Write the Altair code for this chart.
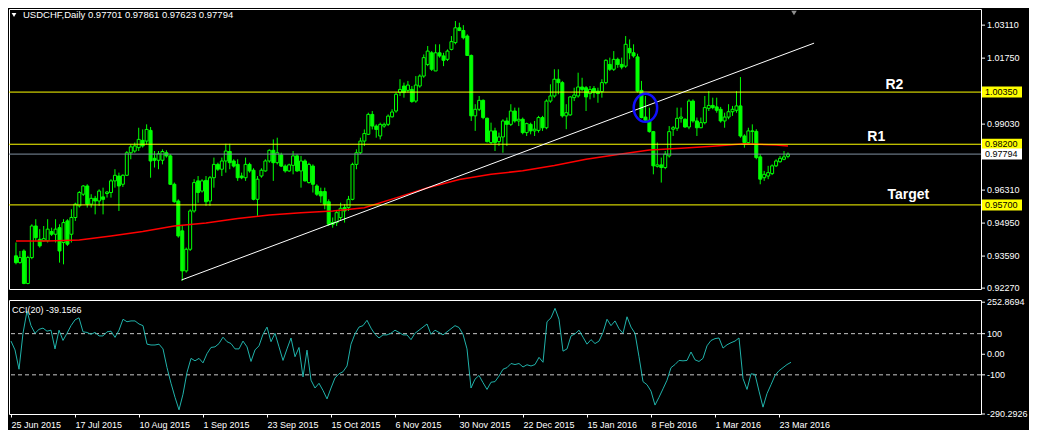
import altair as alt
import pandas as pd

# ---------------- data ----------------
OPEN = [0.9360, 0.9332, 0.9380, 0.9246, 0.9353, 0.9483, 0.9428, 0.9422, 0.9422, 0.9460,
        0.9449, 0.9476, 0.9415, 0.9504, 0.9449, 0.9518, 0.9566, 0.9614, 0.9648, 0.9573,
        0.9597, 0.9586, 0.9603, 0.9617, 0.9621, 0.9669, 0.9689, 0.9655, 0.9692, 0.9785,
        0.9792, 0.9806, 0.9836, 0.9833, 0.9877, 0.9762, 0.9754, 0.9754, 0.9785, 0.9772,
        0.9655, 0.9586, 0.9463, 0.9298, 0.9387, 0.9545, 0.9669, 0.9627, 0.9671, 0.9586,
        0.9682, 0.9737, 0.9717, 0.9751, 0.9790, 0.9751, 0.9737, 0.9689, 0.9682, 0.9737,
        0.9713, 0.9593, 0.9689, 0.9710, 0.9751, 0.9795, 0.9744, 0.9776, 0.9730, 0.9710,
        0.9733, 0.9772, 0.9710, 0.9751, 0.9662, 0.9730, 0.9648, 0.9625, 0.9625, 0.9583,
        0.9497, 0.9497, 0.9518, 0.9559, 0.9559, 0.9593, 0.9737, 0.9785, 0.9833, 0.9861,
        0.9943, 0.9895, 0.9854, 0.9895, 0.9902, 0.9933, 0.9957, 1.0033, 1.0060, 1.0042,
        1.0046, 0.9998, 1.0060, 1.0101, 1.0149, 1.0197, 1.0122, 1.0197, 1.0184, 1.0170,
        1.0211, 1.0239, 1.0300, 1.0289, 1.0266, 1.0186, 0.9937, 0.9964, 1.0001, 0.9927,
        0.9827, 0.9875, 0.9831, 0.9850, 0.9916, 0.9902, 0.9957, 0.9916, 0.9923, 0.9868,
        0.9902, 0.9875, 0.9877, 0.9930, 0.9888, 0.9998, 1.0019, 1.0088, 1.0074, 0.9937,
        0.9941, 1.0012, 1.0019, 1.0056, 1.0053, 1.0029, 1.0050, 1.0039, 1.0037, 1.0074,
        1.0149, 1.0129, 1.0170, 1.0149, 1.0142, 1.0215, 1.0197, 1.0180, 1.0042, 0.9932,
        0.9919, 0.9872, 0.9729, 0.9735, 0.9724, 0.9772, 0.9882, 0.9886, 0.9927, 0.9923,
        0.9891, 0.9998, 0.9916, 0.9888, 0.9909, 0.9968, 0.9980, 0.9974, 0.9964, 0.9916,
        0.9932, 0.9954, 0.9960, 0.9978, 0.9854, 0.9827, 0.9875, 0.9873, 0.9768, 0.9682,
        0.9689, 0.9699, 0.9731, 0.9748, 0.9758, 0.97701]

HIGH = [0.9415, 0.9380, 0.9387, 0.9360, 0.9490, 0.9511, 0.9470, 0.9483, 0.9511, 0.9476,
        0.9511, 0.9490, 0.9511, 0.9511, 0.9552, 0.9579, 0.9627, 0.9652, 0.9655, 0.9614,
        0.9607, 0.9634, 0.9641, 0.9627, 0.9676, 0.9717, 0.9703, 0.9696, 0.9792, 0.9820,
        0.9827, 0.9888, 0.9881, 0.9902, 0.9891, 0.9792, 0.9792, 0.9799, 0.9795, 0.9779,
        0.9662, 0.9593, 0.9483, 0.9394, 0.9552, 0.9676, 0.9689, 0.9676, 0.9689, 0.9689,
        0.9765, 0.9744, 0.9765, 0.9822, 0.9822, 0.9758, 0.9758, 0.9703, 0.9765, 0.9744,
        0.9721, 0.9689, 0.9721, 0.9758, 0.9799, 0.9840, 0.9847, 0.9785, 0.9737, 0.9740,
        0.9792, 0.9779, 0.9772, 0.9758, 0.9744, 0.9737, 0.9655, 0.9641, 0.9641, 0.9593,
        0.9518, 0.9545, 0.9579, 0.9573, 0.9607, 0.9744, 0.9799, 0.9847, 0.9881, 0.9950,
        0.9957, 0.9902, 0.9909, 0.9909, 0.9943, 0.9964, 1.0033, 1.0088, 1.0074, 1.0081,
        1.0060, 1.0101, 1.0108, 1.0190, 1.0225, 1.0204, 1.0232, 1.0232, 1.0197, 1.0211,
        1.0266, 1.0328, 1.0321, 1.0311, 1.0273, 1.0190, 0.9985, 1.0019, 1.0005, 0.9930,
        0.9909, 0.9888, 0.9868, 0.9923, 0.9930, 0.9985, 0.9971, 0.9971, 0.9930, 0.9909,
        0.9909, 0.9916, 0.9937, 0.9937, 1.0005, 1.0067, 1.0129, 1.0129, 1.0081, 0.9985,
        1.0019, 1.0053, 1.0115, 1.0094, 1.0060, 1.0060, 1.0060, 1.0053, 1.0088, 1.0170,
        1.0177, 1.0204, 1.0177, 1.0177, 1.0266, 1.0252, 1.0232, 1.0193, 1.0081, 1.0019,
        0.9971, 0.9875, 0.9827, 0.9765, 0.9792, 0.9895, 0.9895, 0.9971, 0.9971, 0.9927,
        1.0005, 1.0005, 0.9930, 0.9930, 1.0019, 1.0039, 1.0012, 1.0012, 0.9974, 0.9950,
        0.9985, 0.9978, 1.0039, 1.0097, 0.9861, 0.9888, 0.9902, 0.9882, 0.9779, 0.9710,
        0.9731, 0.9737, 0.9758, 0.9772, 0.9792, 0.97861]

LOW = [0.9325, 0.9328, 0.9243, 0.9243, 0.9346, 0.9422, 0.9394, 0.9419, 0.9415, 0.9442,
       0.9415, 0.9332, 0.9325, 0.9401, 0.9415, 0.9504, 0.9559, 0.9607, 0.9559, 0.9559,
       0.9531, 0.9566, 0.9531, 0.9600, 0.9600, 0.9641, 0.9545, 0.9644, 0.9689, 0.9758,
       0.9785, 0.9792, 0.9806, 0.9820, 0.9682, 0.9724, 0.9717, 0.9737, 0.9765, 0.9652,
       0.9579, 0.9435, 0.9257, 0.9291, 0.9380, 0.9538, 0.9579, 0.9621, 0.9566, 0.9566,
       0.9641, 0.9710, 0.9689, 0.9703, 0.9717, 0.9724, 0.9669, 0.9676, 0.9669, 0.9703,
       0.9589, 0.9525, 0.9682, 0.9707, 0.9744, 0.9669, 0.9737, 0.9726, 0.9703, 0.9706,
       0.9696, 0.9706, 0.9641, 0.9666, 0.9658, 0.9621, 0.9607, 0.9579, 0.9552, 0.9483,
       0.9476, 0.9483, 0.9504, 0.9497, 0.9545, 0.9589, 0.9717, 0.9779, 0.9813, 0.9858,
       0.9881, 0.9847, 0.9840, 0.9888, 0.9895, 0.9930, 0.9950, 1.0019, 1.0012, 1.0033,
       0.9991, 0.9991, 1.0053, 1.0094, 1.0142, 1.0122, 1.0122, 1.0177, 1.0142, 1.0163,
       1.0207, 1.0232, 1.0286, 1.0252, 1.0184, 0.9916, 0.9875, 0.9957, 0.9923, 0.9827,
       0.9820, 0.9792, 0.9813, 0.9785, 0.9813, 0.9895, 0.9909, 0.9895, 0.9861, 0.9854,
       0.9861, 0.9854, 0.9868, 0.9875, 0.9882, 0.9991, 1.0012, 1.0026, 0.9930, 0.9882,
       0.9937, 0.9998, 1.0012, 1.0039, 0.9957, 1.0005, 1.0012, 0.9991, 1.0012, 1.0067,
       1.0122, 1.0122, 1.0135, 1.0129, 1.0135, 1.0170, 1.0177, 1.0033, 0.9927, 0.9916,
       0.9868, 0.9696, 0.9724, 0.9662, 0.9717, 0.9765, 0.9854, 0.9875, 0.9909, 0.9888,
       0.9882, 0.9909, 0.9854, 0.9886, 0.9902, 0.9957, 0.9964, 0.9950, 0.9909, 0.9888,
       0.9923, 0.9937, 0.9950, 0.9847, 0.9806, 0.9820, 0.9820, 0.9758, 0.9655, 0.9669,
       0.9676, 0.9693, 0.9726, 0.9744, 0.9754, 0.97623]

CLOSE = [0.9332, 0.9353, 0.9246, 0.9353, 0.9483, 0.9435, 0.9401, 0.9431, 0.9470, 0.9449,
         0.9470, 0.9380, 0.9497, 0.9408, 0.9518, 0.9573, 0.9621, 0.9648, 0.9573, 0.9597,
         0.9586, 0.9627, 0.9593, 0.9623, 0.9669, 0.9692, 0.9648, 0.9692, 0.9785, 0.9809,
         0.9813, 0.9840, 0.9813, 0.9881, 0.9751, 0.9754, 0.9781, 0.9790, 0.9772, 0.9655,
         0.9583, 0.9442, 0.9298, 0.9387, 0.9545, 0.9662, 0.9621, 0.9669, 0.9583, 0.9682,
         0.9737, 0.9717, 0.9751, 0.9792, 0.9744, 0.9730, 0.9682, 0.9682, 0.9737, 0.9710,
         0.9593, 0.9676, 0.9713, 0.9751, 0.9795, 0.9744, 0.9785, 0.9730, 0.9710, 0.9735,
         0.9772, 0.9710, 0.9751, 0.9669, 0.9737, 0.9655, 0.9614, 0.9607, 0.9573, 0.9490,
         0.9490, 0.9538, 0.9556, 0.9545, 0.9593, 0.9737, 0.9785, 0.9833, 0.9864, 0.9943,
         0.9895, 0.9881, 0.9902, 0.9902, 0.9936, 0.9953, 1.0026, 1.0046, 1.0033, 1.0064,
         0.9996, 1.0064, 1.0101, 1.0177, 1.0204, 1.0129, 1.0197, 1.0184, 1.0166, 1.0204,
         1.0243, 1.0300, 1.0289, 1.0259, 1.0186, 0.9937, 0.9964, 1.0001, 0.9930, 0.9831,
         0.9875, 0.9827, 0.9850, 0.9916, 0.9902, 0.9957, 0.9916, 0.9923, 0.9868, 0.9905,
         0.9875, 0.9882, 0.9930, 0.9888, 0.9998, 1.0019, 1.0088, 1.0074, 0.9937, 0.9950,
         1.0015, 1.0023, 1.0056, 1.0046, 1.0015, 1.0046, 1.0033, 1.0029, 1.0074, 1.0166,
         1.0129, 1.0170, 1.0149, 1.0138, 1.0232, 1.0197, 1.0184, 1.0039, 0.9930, 0.9919,
         0.9872, 0.9731, 0.9735, 0.9724, 0.9779, 0.9872, 0.9888, 0.9927, 0.9932, 0.9891,
         0.9998, 0.9916, 0.9888, 0.9909, 0.9971, 0.9980, 0.9971, 0.9960, 0.9916, 0.9932,
         0.9954, 0.9964, 0.9978, 0.9854, 0.9827, 0.9875, 0.9873, 0.9765, 0.9676, 0.9696,
         0.9703, 0.9731, 0.9751, 0.9762, 0.9768, 0.97794]

CCI = [64, 21, -73, 102, 210, 139, 102, 121, 127, 112,
       117, 26, 117, 67, 102, 139, 167, 177, 109, 106,
       97, 106, 89, 89, 109, 112, 82, 117, 170, 158,
       162, 162, 147, 139, 49, 45, 45, 49, 26, -65,
       -141, -209, -270, -194, -88, -20, -32, -20, -42, 3,
       33, 36, 52, 83, 61, 52, 26, 26, 64, 36,
       -35, 21, 41, 97, 132, 61, 102, 36, -30, 26,
       79, -12, 33, -110, 20, -126, -164, -141, -176, -217,
       -164, -115, -95, -85, -57, 49, 99, 132, 139, 165,
       127, 97, 79, 94, 94, 102, 117, 106, 94, 94,
       71, 102, 117, 132, 147, 97, 117, 106, 94, 109,
       124, 139, 130, 97, 26, -164, -121, -103, -138, -171,
       -136, -133, -106, -73, -65, -45, -50, -45, -62, -51,
       -57, -50, -15, -39, 158, 177, 223, 170, 15, 26,
       89, 99, 117, 83, 49, 71, 52, 64, 106, 170,
       139, 162, 124, 102, 182, 132, 102, -12, -133, -148,
       -179, -247, -209, -168, -126, -65, -50, -30, -32, -30,
       11, -27, -35, -20, 41, 67, 76, 79, 30, 46,
       56, 64, 79, -118, -171, -95, -98, -179, -257, -191,
       -148, -103, -80, -65, -50, -39.1566]

MA_BARS = [0, 8, 16, 24, 32, 40, 48, 56, 64, 72, 80, 88, 96, 104, 112, 120, 128,
           136, 144, 152, 160, 168, 176, 184, 192, 195]
MA_VALUES = [0.9421, 0.9421, 0.9425, 0.9442, 0.9460, 0.9483, 0.9495, 0.9514, 0.9528,
             0.9538, 0.9545, 0.9558, 0.9599, 0.9641, 0.9675, 0.9696, 0.9711, 0.9732,
             0.9758, 0.9778, 0.9796, 0.9803, 0.9812, 0.9822, 0.9817, 0.9813]

TREND_BARS = [41.8, 201.6]
TREND_PRICES = [0.92604, 1.02368]

LEVEL_PRICES = [1.00350, 0.98200, 0.95700]
BID_PRICE = 0.97794
LEVEL_NAMES = ["R2", "R1", "Target"]
LEVEL_NAME_BARS = [221.9, 217.3, 225.4]
LEVEL_NAME_PRICES = [1.0047, 0.9833, 0.9594]

CIRCLE_BAR = [159.0]
CIRCLE_PRICE = [0.99703]

DATE_LABELS = ["25 Jun 2015", "17 Jul 2015", "10 Aug 2015", "1 Sep 2015", "23 Sep 2015",
               "15 Oct 2015", "6 Nov 2015", "30 Nov 2015", "22 Dec 2015", "15 Jan 2016",
               "8 Feb 2016", "1 Mar 2016", "23 Mar 2016"]
DATE_STEP = 16
PRICE_TICKS = [1.03110, 1.01750, 0.99030, 0.96310, 0.94950, 0.93590, 0.92270]
CCI_TICKS = [252.8694, 100, 0, -100, -290.2926]
CCI_TICK_LABELS = ["252.8694", "100", "0.00", "-100", "-290.2926"]
CCI_LEVELS = [100, -100]
HEADER = "USDCHF,Daily  0.97701 0.97861 0.97623 0.97794"
CCI_TITLE = "CCI(20) -39.1566"

# ---------------- styling ----------------
W = 972
H1 = 280
H2 = 114
X0 = -0.5
GREEN = "#00ff00"
FONT = "Liberation Sans"

xs = alt.Scale(domain=[X0, X0 + W / 4], nice=False, zero=False)
ys = alt.Scale(domain=[0.92233, 1.03775], nice=False, zero=False)
cs = alt.Scale(domain=[-290.2926, 263.6], nice=False, zero=False)

n = len(CLOSE)
candles = pd.DataFrame({"i": list(range(n)), "open": OPEN, "high": HIGH,
                        "low": LOW, "close": CLOSE})
candles["dir"] = ["up" if c >= o else "down" for o, c in zip(OPEN, CLOSE)]

X_NO = alt.X("i:Q", scale=xs, axis=None)

wicks = alt.Chart(candles).mark_rule(color=GREEN, strokeWidth=1).encode(
    x=X_NO, y=alt.Y("low:Q", scale=ys, axis=None), y2="high:Q")

bodies = alt.Chart(candles).mark_bar(size=3, stroke=GREEN, strokeWidth=1).encode(
    x=X_NO, y=alt.Y("open:Q", scale=ys, axis=None), y2="close:Q",
    fill=alt.Fill("dir:N", scale=alt.Scale(domain=["up", "down"], range=["#000000", GREEN]),
                  legend=None))

ma_df = pd.DataFrame({"bar": MA_BARS, "v": MA_VALUES})
ma = alt.Chart(ma_df).mark_line(color="#ff0000", strokeWidth=1.5).encode(
    x=alt.X("bar:Q", scale=xs, axis=None), y=alt.Y("v:Q", scale=ys, axis=None))

levels = pd.DataFrame({"price": LEVEL_PRICES + [BID_PRICE],
                       "col": ["#ffff00"] * len(LEVEL_PRICES) + ["#8090a0"],
                       "label": [f"{p:.5f}" for p in LEVEL_PRICES + [BID_PRICE]],
                       "bg": ["#ffff00"] * len(LEVEL_PRICES) + ["#ffffff"]})
level_rules = alt.Chart(levels).mark_rule(strokeWidth=1).encode(
    y=alt.Y("price:Q", scale=ys, axis=None), color=alt.Color("col:N", scale=None))

trend_df = pd.DataFrame({"bar": TREND_BARS, "p": TREND_PRICES})
trend = alt.Chart(trend_df).mark_line(color="#ffffff", strokeWidth=1).encode(
    x=alt.X("bar:Q", scale=xs, axis=None), y=alt.Y("p:Q", scale=ys, axis=None))

ELLIPSE = "M0,-1.2A1,1.2,0,1,1,0,1.2A1,1.2,0,1,1,0,-1.2Z"
circ_df = pd.DataFrame({"bar": CIRCLE_BAR, "p": CIRCLE_PRICE})
circle = alt.Chart(circ_df).mark_point(shape=ELLIPSE, size=548, filled=False,
                                       color="#1010ff", strokeWidth=2.5, opacity=1).encode(
    x=alt.X("bar:Q", scale=xs, axis=None), y=alt.Y("p:Q", scale=ys, axis=None))

names_df = pd.DataFrame({"bar": LEVEL_NAME_BARS, "p": LEVEL_NAME_PRICES, "t": LEVEL_NAMES})
names = alt.Chart(names_df).mark_text(color="white", fontSize=14, fontWeight="bold",
                                      font=FONT, align="center", baseline="alphabetic").encode(
    x=alt.X("bar:Q", scale=xs, axis=None), y=alt.Y("p:Q", scale=ys, axis=None), text="t:N")

one = pd.DataFrame({"t": [HEADER]})
header = alt.Chart(one).mark_text(align="left", baseline="middle", color="white",
                                  fontSize=9.5, font=FONT).encode(
    x=alt.value(14), y=alt.value(6), text="t:N")
header_tri = alt.Chart(one).mark_point(shape="triangle-down", filled=True, size=22,
                                       color="white", opacity=1).encode(
    x=alt.value(5), y=alt.value(6))
shift_tri = alt.Chart(one).mark_point(shape="triangle-down", filled=True, size=30,
                                      color="#909090", opacity=1).encode(
    x=alt.value(785), y=alt.value(4))

# right-hand price scale (drawn as ticks + text)
ptick_df = pd.DataFrame({"price": PRICE_TICKS, "label": [f"{p:.5f}" for p in PRICE_TICKS]})
p_ticks = alt.Chart(ptick_df).mark_tick(orient="horizontal", thickness=1, size=4,
                                        color="white", opacity=1).encode(
    y=alt.Y("price:Q", scale=ys, axis=None), x=alt.value(W + 2))
p_labels = alt.Chart(ptick_df).mark_text(align="left", baseline="middle", fontSize=9,
                                         font=FONT, color="white").encode(
    y=alt.Y("price:Q", scale=ys, axis=None), x=alt.value(W + 6), text="label:N")

box_rects = alt.Chart(levels).mark_tick(orient="horizontal", thickness=11, size=40,
                                        opacity=1).encode(
    y=alt.Y("price:Q", scale=ys, axis=None), x=alt.value(W + 21),
    color=alt.Color("bg:N", scale=None))
box_text = alt.Chart(levels).mark_text(align="left", baseline="middle", fontSize=9,
                                       font=FONT, color="#000000").encode(
    y=alt.Y("price:Q", scale=ys, axis=None), x=alt.value(W + 4), text="label:N")

main = alt.layer(wicks, bodies, ma, level_rules, trend, circle, names, header, header_tri,
                 shift_tri, p_ticks, p_labels, box_rects, box_text).properties(width=W, height=H1)

# ---------------- CCI panel ----------------
date_expr = "[" + ",".join(f"'{d}'" for d in DATE_LABELS) + f"][round(datum.value / {DATE_STEP})]"
date_axis = alt.Axis(values=[DATE_STEP * k for k in range(len(DATE_LABELS))],
                     labelExpr=date_expr, title=None, labelColor="white", tickColor="white",
                     tickSize=3, labelAlign="left", labelPadding=3, labelFontSize=9,
                     labelFont=FONT, domain=False, grid=False, labelOverlap=False,
                     labelFlush=False)

cci_df = pd.DataFrame({"i": list(range(n)), "cci": CCI})
cci_line = alt.Chart(cci_df).mark_line(color="#20b2aa", strokeWidth=1).encode(
    x=alt.X("i:Q", scale=xs, axis=date_axis), y=alt.Y("cci:Q", scale=cs, axis=None))
cci_lv = alt.Chart(pd.DataFrame({"v": CCI_LEVELS})).mark_rule(
    color="#c8c8c8", strokeDash=[4, 3], strokeWidth=1).encode(
    y=alt.Y("v:Q", scale=cs, axis=None))
cci_title = alt.Chart(pd.DataFrame({"t": [CCI_TITLE]})).mark_text(
    align="left", baseline="middle", color="white", fontSize=9, font=FONT).encode(
    x=alt.value(3), y=alt.value(10), text="t:N")

ctick_df = pd.DataFrame({"v": CCI_TICKS, "label": CCI_TICK_LABELS})
c_ticks = alt.Chart(ctick_df).mark_tick(orient="horizontal", thickness=1, size=4,
                                        color="white", opacity=1).encode(
    y=alt.Y("v:Q", scale=cs, axis=None), x=alt.value(W + 2))
c_labels = alt.Chart(ctick_df).mark_text(align="left", baseline="middle", fontSize=9,
                                         font=FONT, color="white").encode(
    y=alt.Y("v:Q", scale=cs, axis=None), x=alt.value(W + 6), text="label:N")

cci = alt.layer(cci_lv, cci_line, cci_title, c_ticks, c_labels).properties(width=W, height=H2)

chart = alt.vconcat(main, cci, spacing=3).properties(padding=0).configure(
    background="#000000").configure_view(stroke="#ffffff", strokeWidth=1)

chart.save("out.html", embed_options={"renderer": "svg", "actions": False})
